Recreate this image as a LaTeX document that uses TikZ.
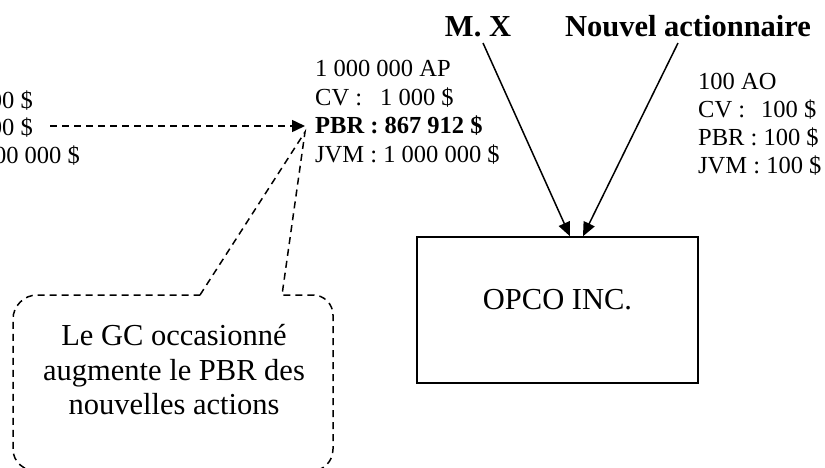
\documentclass[tikz,border=0pt]{standalone}
\usepackage{fontspec}
\setmainfont{Liberation Serif}
\usetikzlibrary{arrows.meta}
\begin{document}
\begin{tikzpicture}[x=1pt,y=-1pt,
  txt/.style={inner sep=0pt, font=\fontsize{24.5}{29}\selectfont},
  head/.style={inner sep=0pt, font=\fontsize{30.5}{34}\selectfont\bfseries},
  solidarrow/.style={line width=1.5pt, -{Triangle[length=14pt,width=12pt]}},
  dasharrow/.style={line width=1.5pt, dash pattern=on 7pt off 5pt, -{Triangle[length=13pt,width=12pt]}},
  dashline/.style={line width=1.5pt, dash pattern=on 7pt off 5pt, line join=miter},
  box/.style={draw, line width=1.5pt, minimum width=281pt, minimum height=146pt, inner sep=0pt}]
\useasboundingbox (0,0) rectangle (825,467);
\clip (0,0) rectangle (825,467);

% left (cut) block
\node[txt, anchor=base east] (l1) at (33,108) {00 \$};
\node[txt, anchor=base east] (l2) at (33,135) {00 \$};
\node[txt, anchor=base east] (l3) at (80,163) {00 000 \$};

% AP block
\node[txt, anchor=base west] (ap1) at (315,76) {1 000 000 AP};
\node[txt, anchor=base west] (ap2) at (315,105) {CV :\kern18pt 1 000 \$};
\node[txt, anchor=base west, font=\fontsize{24.5}{29}\selectfont\bfseries] (ap3) at (315,133) {PBR : 867 912 \$};
\node[txt, anchor=base west] (ap4) at (315,162) {JVM : 1 000 000 \$};

% AO block
\node[txt, anchor=base west] (ao1) at (698,89) {100 AO};
\node[txt, anchor=base west] (ao2) at (698,117) {CV :\kern16pt 100 \$};
\node[txt, anchor=base west] (ao3) at (698,145) {PBR : 100 \$};
\node[txt, anchor=base west] (ao4) at (698,173) {JVM : 100 \$};

% headings
\node[head, anchor=base] (mx) at (478,36) {M. X};
\node[head, anchor=base] (nouv) at (688,36) {Nouvel actionnaire};

% OPCO box
\node[box] (opco) at (557.5,310) {};
\node[inner sep=0pt, font=\fontsize{30.5}{34}\selectfont] (opcotxt) at ([yshift=10pt]opco.center) {OPCO INC.};

% arrows into OPCO
\draw[solidarrow] ([xshift=5pt,yshift=-7pt]mx.base) -- ([xshift=12.5pt]opco.north);
\draw[solidarrow] ([xshift=-10pt,yshift=-7pt]nouv.base) -- ([xshift=25.5pt]opco.north);

% dashed arrow to PBR
\coordinate (pt) at ([xshift=-10pt,yshift=7pt]ap3.base west);
\draw[dasharrow] ([xshift=17pt]l2.east |- pt) -- (pt);

% callout
\coordinate (apex) at ([xshift=-10pt,yshift=1pt]ap3.base west);
\draw[dashline] (200,295) -- (apex) -- (282,295) -- (313,295)
  .. controls (324,295) and (333,304) .. (333,315) -- (333,449)
  .. controls (333,462) and (323,471) .. (311,471) -- (37,471)
  .. controls (24,471) and (13,462) .. (13,449) -- (13,319)
  .. controls (13,306) and (24,295) .. (37,295) -- cycle;
\node[inner sep=0pt, align=center, font=\fontsize{30.5}{34.5}\selectfont] (note) at (174,370)
  {Le GC occasionné\\augmente le PBR des\\nouvelles actions};
\end{tikzpicture}
\end{document}
